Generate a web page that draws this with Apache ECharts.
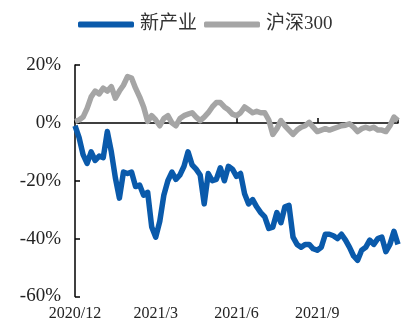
<!DOCTYPE html>
<html><head><meta charset="utf-8">
<script src="https://cdn.jsdelivr.net/npm/echarts@6/dist/echarts.min.js"></script>
<style>html,body{margin:0;padding:0;background:#fff}#c{width:402px;height:326px}</style>
</head><body><div id="c"></div>
<script>
var tickLabels = ['2020/12', '2021/3', '2021/6', '2021/9', ''];
var seriesNames = ['新产业', '沪深300'];
var xinchanye = [-1,-5,-11,-14,-10,-13,-11.5,-12,-3,-10,
  -19,-26,-17,-17.5,-17,-22,-21.5,-25,-24,-36,
  -39.5,-34,-25,-20,-17,-19.5,-18,-15,-10,-14.5,
  -16,-18,-28,-17.5,-20,-19.5,-15.5,-20,-15,-16,
  -18.5,-17.5,-24.5,-28,-26.5,-29,-31,-32.5,-36.5,-36,
  -31,-34.5,-29,-28.5,-39.5,-42,-43,-42,-42,-43.5,
  -44,-43,-38.5,-38.5,-39,-40,-38.5,-40.5,-43,-46,
  -47.5,-44,-43,-40.5,-42,-40,-39.5,-44.5,-42,-37.5,-42];
var hs300 = [0.5,1,2,5,9,11,10,12,11,12.5,
  8.5,11,13,16,15.5,12,9,5.5,0.5,2.5,
  1,-1,1.5,2.5,0,-1,1.5,2.5,3,3.5,
  2,0.8,2,3.5,5.5,7,7,5.5,4.5,3,
  2.5,3.5,5.5,4.5,3.5,4,3.5,3.5,1,-4,
  -2,0.8,-1,-2.5,-4,-2.5,-1.5,-1,0.2,-1.5,
  -3,-2.5,-2,-2.5,-2,-1.5,-1,-0.8,-0.3,-1.5,
  -3,-2,-1.5,-2,-1.5,-2.5,-2.5,-3,-1,2,0.8];
var categories = xinchanye.map(function (_, i) { return i; });
var step = (categories.length - 1) / (tickLabels.length - 1);

var chart = echarts.init(document.getElementById('c'), null, {renderer: 'canvas'});
var serif = '"Liberation Serif", "Times New Roman", "Noto Sans CJK SC", serif';
chart.setOption({
  animation: false,
  legend: {
    left: 73, top: 10,
    itemWidth: 56, itemHeight: 6, itemGap: 7,
    icon: 'roundRect',
    textStyle: {fontFamily: serif, fontSize: 19, color: '#333', padding: [0, 0, 0, 1]},
    data: seriesNames
  },
  grid: {left: 75, right: 4, top: 65, bottom: 29.5, containLabel: false},
  xAxis: {
    type: 'category', boundaryGap: false, data: categories,
    axisLine: {lineStyle: {color: '#000', width: 1.5}},
    axisTick: {inside: true, length: 5, lineStyle: {color: '#000', width: 1.5},
      interval: function (i) { return i % step === 0; }},
    axisLabel: {interval: function (i) { return i % step === 0; },
      formatter: function (v, i) { return tickLabels[i / step] || ''; },
      fontFamily: serif, fontSize: 16, color: '#222', margin: 9},
    splitLine: {show: false}
  },
  yAxis: {
    type: 'value', min: -60, max: 20, interval: 20,
    axisLine: {show: true, lineStyle: {color: '#000', width: 1.5}},
    axisTick: {show: true, inside: true, length: 5, lineStyle: {color: '#000', width: 1.5}},
    axisLabel: {formatter: '{value}%', fontFamily: serif, fontSize: 19, color: '#222', margin: 14},
    splitLine: {show: false}
  },
  series: [
    {name: seriesNames[0], type: 'line', data: xinchanye, showSymbol: false, symbol: 'none',
      z: 3, lineStyle: {color: '#0a5aab', width: 5.5, join: 'round'}, itemStyle: {color: '#0a5aab'}},
    {name: seriesNames[1], type: 'line', data: hs300, showSymbol: false, symbol: 'none',
      z: 2, lineStyle: {color: '#a5a5a5', width: 5.5, join: 'round'}, itemStyle: {color: '#a5a5a5'}}
  ]
});
</script></body></html>
